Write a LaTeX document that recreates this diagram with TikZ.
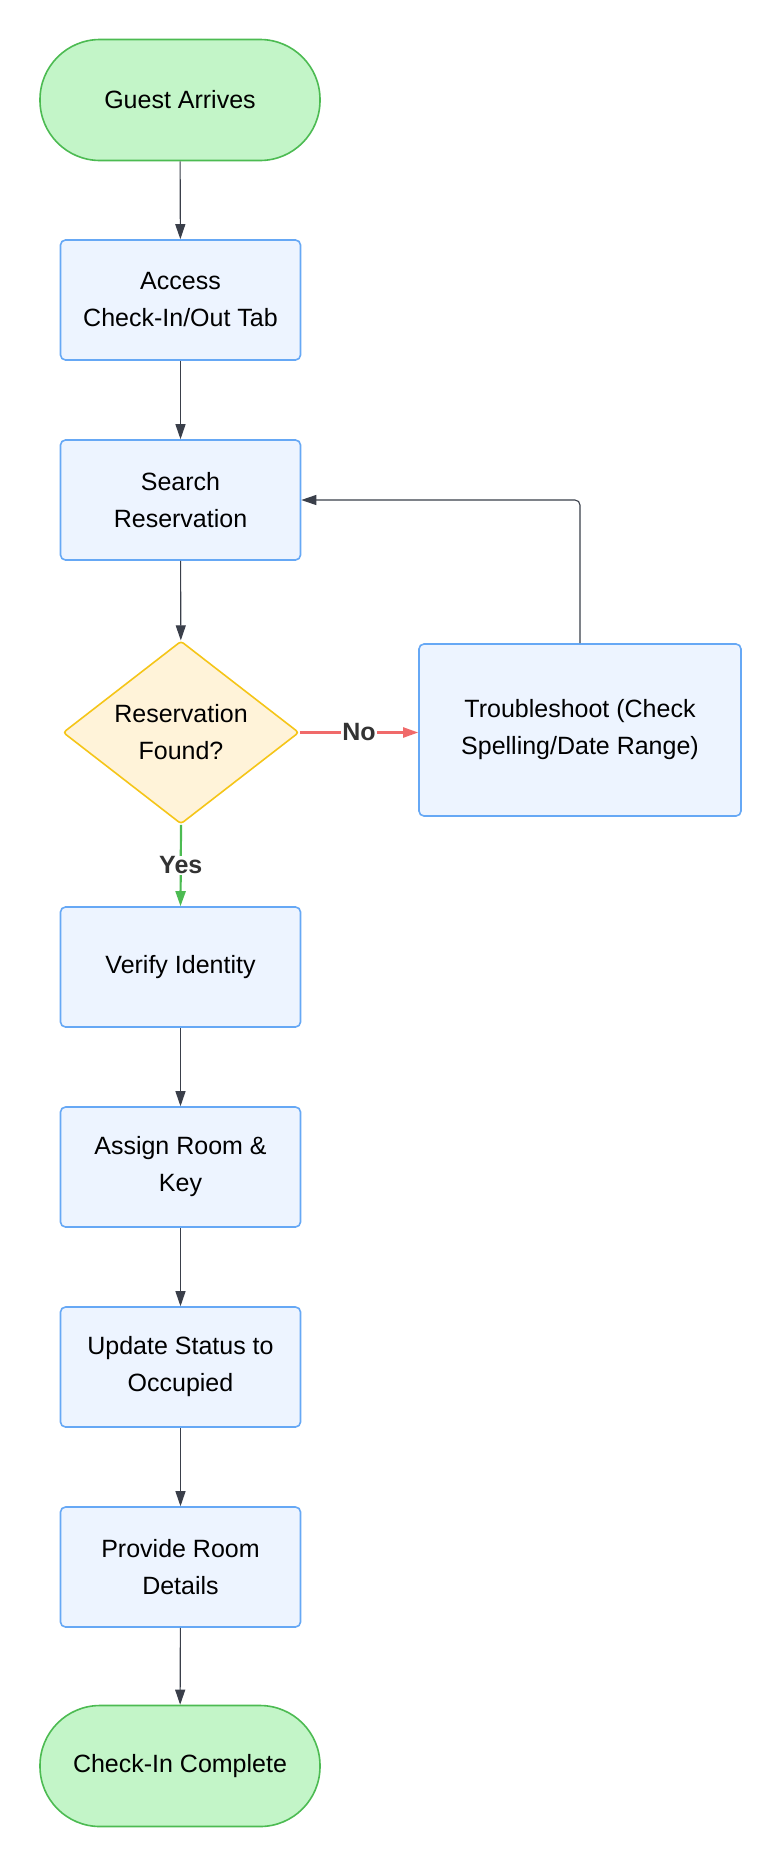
\documentclass[tikz,border=0pt]{standalone}
\usepackage{fontspec}
\setmainfont{Liberation Sans}
\usetikzlibrary{arrows.meta,shapes.geometric}
\definecolor{termfill}{HTML}{C3F5C8}
\definecolor{termdraw}{HTML}{4CBB52}
\definecolor{boxfill}{HTML}{EDF4FF}
\definecolor{boxdraw}{HTML}{66A8F5}
\definecolor{decfill}{HTML}{FFF3D9}
\definecolor{decdraw}{HTML}{F5C518}
\definecolor{arrowcol}{HTML}{3A3F4A}
\definecolor{loopcol}{HTML}{6B7280}
\definecolor{nocol}{HTML}{F06A6A}
\definecolor{yescol}{HTML}{4CBB52}
\definecolor{labcol}{HTML}{333333}
\tikzset{
  base/.style={align=center, inner sep=0pt, font=\fontsize{25}{37}\selectfont, text=black},
  term/.style={base, draw=termdraw, fill=termfill, line width=1.6pt, rounded corners=60pt, minimum width=280pt, minimum height=121pt},
  stepbox/.style={base, draw=boxdraw, fill=boxfill, line width=1.6pt, rounded corners=5pt, minimum width=240pt, minimum height=120pt},
  decision/.style={base, diamond, draw=decdraw, fill=decfill, line width=1.6pt, rounded corners=3pt, shape aspect=1.29, minimum width=236pt, minimum height=183pt},
  flow/.style={draw=arrowcol, line width=1.1pt, -{Triangle[length=15pt,width=10pt]}},
  loopflow/.style={draw=loopcol, line width=1.1pt, rounded corners=5pt, -{Triangle[length=15pt,width=10pt]}, arrowcol},
  noflow/.style={draw=nocol, line width=2.2pt, -{Triangle[length=15pt,width=10pt]}},
  yesflow/.style={draw=yescol, line width=2.2pt, -{Triangle[length=15pt,width=10pt]}},
  elabel/.style={font=\bfseries\fontsize{25}{30}\selectfont, text=labcol, fill=white, inner sep=1pt}
}
\begin{document}
\begin{tikzpicture}[x=1pt,y=-1pt]
\useasboundingbox[fill=white] (0,0) rectangle (780,1866);
\node[term] (start) at (180,100) {Guest Arrives};
\node[stepbox] (access) at (180.5,300) {Access\\Check-In/Out Tab};
\node[stepbox] (search) at (180.5,500) {Search\\Reservation};
\node[decision] (dec) at (181,732.5) {Reservation\\Found?};
\node[stepbox, minimum width=322pt, minimum height=172pt] (trouble) at (580,730) {Troubleshoot (Check\\Spelling/Date Range)};
\node[stepbox] (verify) at (180.5,967) {Verify Identity};
\node[stepbox] (assign) at (180.5,1167) {Assign Room \&\\Key};
\node[stepbox] (update) at (180.5,1367) {Update Status to\\Occupied};
\node[stepbox] (provide) at (180.5,1567) {Provide Room\\Details};
\node[term] (end) at (180,1766) {Check-In Complete};

\draw[flow] (start) -- (access);
\draw[flow] (access) -- (search);
\draw[flow] (search) -- (dec);
\draw[noflow] (dec.east) -- node[elabel] {No} (dec.east -| trouble.west);
\draw[yesflow] (dec.south) -- node[elabel, pos=0.5] {Yes} (verify.north);
\draw[loopflow] (trouble.north) |- (search.east);
\draw[flow] (verify) -- (assign);
\draw[flow] (assign) -- (update);
\draw[flow] (update) -- (provide);
\draw[flow] (provide) -- (end);
\end{tikzpicture}
\end{document}
